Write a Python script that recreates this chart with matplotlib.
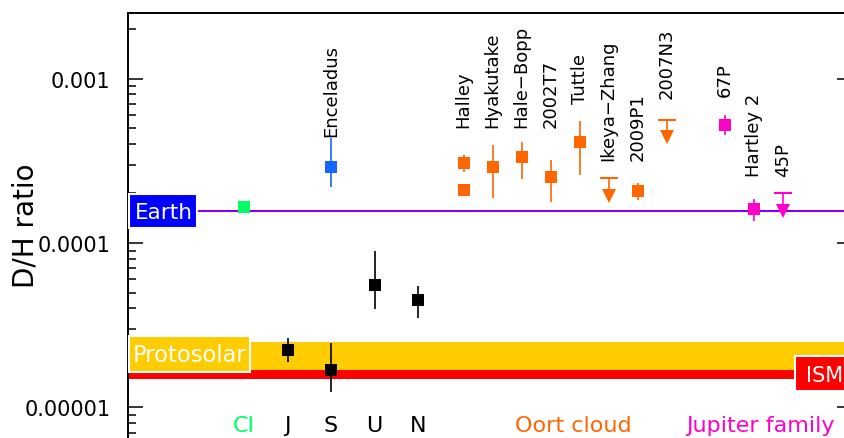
import numpy as np
import matplotlib
matplotlib.use("Agg")
import matplotlib.pyplot as plt
from matplotlib.patches import Rectangle
from matplotlib.ticker import LogLocator, FuncFormatter, NullFormatter, NullLocator
import matplotlib.transforms as mtransforms

# ---------------- data ----------------
earth_dh = 1.557e-4
protosolar_lo, protosolar_hi = 1.7e-5, 2.5e-5
ism_lo, ism_hi = 1.5e-5, 1.7e-5

ci_dh = 1.65e-4

planet_names = ["J", "S", "U", "N"]
planet_dh = [2.25e-5, 1.70e-5, 5.53e-5, 4.50e-5]
planet_hi = [2.64e-5, 2.47e-5, 9.0e-5, 5.5e-5]
planet_lo = [1.89e-5, 1.24e-5, 3.97e-5, 3.48e-5]

enceladus_dh = 2.9e-4
enceladus_hi = 4.35e-4
enceladus_lo = 2.19e-4

oort_names = ["Halley", "Hyakutake", "Hale\u2212Bopp", "2002T7", "Tuttle",
              "Ikeya\u2212Zhang", "2009P1", "2007N3"]
oort_dh = [3.06e-4, 2.88e-4, 3.32e-4, 2.51e-4, 4.09e-4, np.nan, 2.06e-4, np.nan]
oort_hi = [3.43e-4, 3.94e-4, 4.13e-4, 3.21e-4, 5.53e-4, np.nan, 2.31e-4, np.nan]
oort_lo = [2.69e-4, 1.87e-4, 2.45e-4, 1.77e-4, 2.59e-4, np.nan, 1.82e-4, np.nan]
oort_upper = [np.nan, np.nan, np.nan, np.nan, np.nan, 2.48e-4, np.nan, 5.62e-4]
halley_second_dh = 2.10e-4

jfc_names = ["67P", "Hartley 2", "45P"]
jfc_dh = [5.24e-4, 1.61e-4, np.nan]
jfc_hi = [6.03e-4, 1.85e-4, np.nan]
jfc_lo = [4.54e-4, 1.37e-4, np.nan]
jfc_upper = [np.nan, np.nan, 2.0e-4]

group_labels = ["CI", "J", "S", "U", "N", "Oort cloud", "Jupiter family"]

# ---------------- style ----------------
C_CI = "#00FF66"
C_ENC = "#1466FF"
C_OORT = "#FF6600"
C_JFC = "#FF00CC"
C_EARTH_LINE = "#7F00FF"
C_EARTH = "#0000FF"
C_PROTO = "#FFCC00"
C_ISM = "#FF0000"

W, H = 844, 439
fig = plt.figure(figsize=(W / 100, H / 100), dpi=100)
plt.rcParams["font.family"] = ["DejaVu Sans"]

ax_left, ax_right, ax_top, ax_bot = 128, 852, 14, 450
ax = fig.add_axes([ax_left / W, 1 - ax_bot / H,
                   (ax_right - ax_left) / W, (ax_bot - ax_top) / H])
ax.set_yscale("log")
ax.set_xlim(-1.667, 14.977)
ax.set_ylim(10 ** -5.2523, 10 ** -2.6018)

for s in ax.spines.values():
    s.set_linewidth(1.4)
ax.xaxis.set_major_locator(NullLocator())
ax.xaxis.set_minor_locator(NullLocator())
ax.yaxis.set_major_locator(LogLocator(base=10))
ax.yaxis.set_minor_locator(LogLocator(base=10, subs=np.arange(2, 10)))
ax.yaxis.set_major_formatter(FuncFormatter(
    lambda v, p: f"{v:.{max(0, int(round(-np.log10(v))))}f}"))
ax.yaxis.set_minor_formatter(NullFormatter())
ax.tick_params(axis="y", which="both", direction="in", right=True,
               labelright=False, width=1.1, labelsize=15, pad=12.5)
ax.tick_params(axis="y", which="major", length=11)
ax.tick_params(axis="y", which="minor", length=6)

# reference bands / line
ax.axhspan(ism_lo, ism_hi, color=C_ISM, lw=0, zorder=1)
ax.axhspan(protosolar_lo, protosolar_hi, color=C_PROTO, lw=0, zorder=1)
ax.axhline(earth_dh, color=C_EARTH_LINE, lw=1.5, zorder=2)

# x positions (categorical)
x_ci = 1
x_planets = [2, 3, 4, 5]
x_enc = 3
comet_step = 2 / 3
x_oort = [6.05 + i * comet_step for i in range(len(oort_names))]
x_jfc = [6.05 + (len(oort_names) + 1 + i) * comet_step for i in range(len(jfc_names))]


def point(x, v, lo, hi, color):
    if np.isfinite(lo) and np.isfinite(hi) and hi > lo:
        ax.vlines(x, lo, hi, color=color, lw=1.2, zorder=3)
    ax.plot([x], [v], "s", ms=9, color=color, mec=color, mew=0, zorder=4)


def upper(x, u, color):
    ax.vlines(x, u * 0.78, u, color=color, lw=1.2, zorder=3)
    ax.plot([x], [u], "_", ms=13, mew=1.5, color=color, zorder=4)
    ax.plot([x], [u * 0.78], "v", ms=10.5, color=color, mew=0, zorder=4)


point(x_ci, ci_dh, np.nan, np.nan, C_CI)
for x, v, lo, hi in zip(x_planets, planet_dh, planet_lo, planet_hi):
    point(x, v, lo, hi, "black")
point(x_enc, enceladus_dh, enceladus_lo, enceladus_hi, C_ENC)
for x, v, lo, hi, u in zip(x_oort, oort_dh, oort_lo, oort_hi, oort_upper):
    if np.isfinite(v):
        point(x, v, lo, hi, C_OORT)
    if np.isfinite(u):
        upper(x, u, C_OORT)
point(x_oort[0], halley_second_dh, np.nan, np.nan, C_OORT)
for x, v, lo, hi, u in zip(x_jfc, jfc_dh, jfc_lo, jfc_hi, jfc_upper):
    if np.isfinite(v):
        point(x, v, lo, hi, C_JFC)
    if np.isfinite(u):
        upper(x, u, C_JFC)

# object name labels (rotated), bottom positions in pixels
blend = mtransforms.blended_transform_factory(ax.transData, ax.transAxes)


def yfrac(py):
    return (ax_bot - py) / (ax_bot - ax_top)


name_x = [x_enc] + x_oort + x_jfc
name_txt = ["Enceladus"] + oort_names + jfc_names
name_bottom_px = [137, 128, 128, 128, 128, 104, 161, 161, 99, 97, 177, 177]
for x, t, py in zip(name_x, name_txt, name_bottom_px):
    ax.text(x, yfrac(py), t, rotation=90, ha="center", va="bottom",
            fontsize=13, transform=blend, zorder=6)

# group labels along the bottom
group_x = [x_ci] + x_planets + [8.58, 12.87]
group_col = [C_CI, "black", "black", "black", "black", C_OORT, C_JFC]
for x, t, c in zip(group_x, group_labels, group_col):
    ax.text(x, yfrac(431.5), t, ha="center", va="baseline", fontsize=16,
            color=c, transform=blend, zorder=6)


# labelled boxes (pixel layout)
def px_box(x0, y0, x1, y1, color):
    r = Rectangle((x0 / W, 1 - y1 / H), (x1 - x0) / W, (y1 - y0) / H,
                  transform=fig.transFigure, facecolor=color,
                  edgecolor="white", lw=1.5, zorder=5)
    fig.add_artist(r)


px_box(129, 195, 197, 229, C_EARTH)
fig.text(163.5 / W, 1 - 219.3 / H, "Earth", color="white", fontsize=15.5,
         ha="center", va="baseline", zorder=6)
px_box(129, 337.3, 250, 373.3, C_PROTO)
fig.text(133 / W, 1 - 361.7 / H, "Protosolar", color="white", fontsize=16.3,
         ha="left", va="baseline", zorder=6)
px_box(795, 356.7, 860, 391.7, C_ISM)
fig.text(806 / W, 1 - 381.7 / H, "ISM", color="white", fontsize=15,
         ha="left", va="baseline", zorder=6)

fig.text(26 / W, 1 - 225.5 / H, "D/H ratio", rotation=90, ha="center",
         va="center", fontsize=20)

fig.savefig("out.png", dpi=100)
